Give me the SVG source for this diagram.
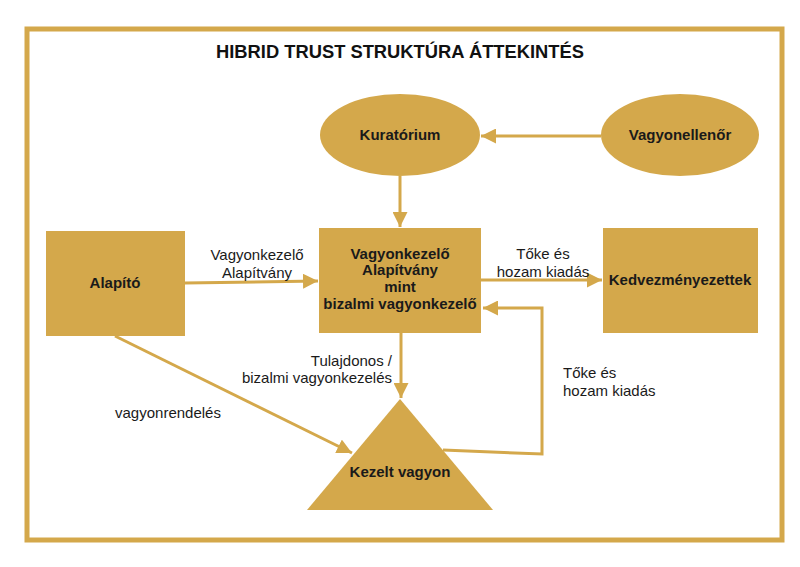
<svg xmlns="http://www.w3.org/2000/svg" width="800" height="567" viewBox="0 0 800 567">
<defs>
<style>
.shape{fill:#D4A84B}
.lbl{font-family:"Liberation Sans",Arial,sans-serif;font-size:15px;fill:#1a1a1a}
.nt{font-family:"Liberation Sans",Arial,sans-serif;font-size:15px;font-weight:bold;fill:#1a1a1a;text-anchor:middle}
.con{fill:none;stroke:#D4A84B;stroke-width:3}
</style>
<marker id="ah" viewBox="0 0 10 10" refX="10" refY="5" markerWidth="5" markerHeight="5" markerUnits="strokeWidth" orient="auto">
<path d="M0,0 L10,5 L0,10 z" fill="#D4A84B"/>
</marker>
</defs>
<rect x="0" y="0" width="800" height="567" fill="#fff"/>
<rect x="27" y="29" width="755" height="511" fill="none" stroke="#D4A84B" stroke-width="5"/>
<text x="400" y="58" text-anchor="middle" font-family="'Liberation Sans',Arial,sans-serif" font-size="18" font-weight="bold" fill="#111" textLength="368" lengthAdjust="spacingAndGlyphs">HIBRID TRUST STRUKTÚRA ÁTTEKINTÉS</text>

<g id="connectors">
<line class="con" x1="601" y1="136" x2="481" y2="136" marker-end="url(#ah)"/>
<line class="con" x1="400" y1="176" x2="400" y2="227" marker-end="url(#ah)"/>
<line class="con" x1="185" y1="283" x2="318" y2="281" marker-end="url(#ah)"/>
<line class="con" x1="481" y1="280" x2="602" y2="280" marker-end="url(#ah)"/>
<line class="con" x1="401" y1="333" x2="401" y2="398" marker-end="url(#ah)"/>
<line class="con" x1="115" y1="336" x2="352" y2="453" marker-end="url(#ah)"/>
<polyline class="con" points="443,450 542,454 542,308 483,308" marker-end="url(#ah)"/>
<text class="lbl" x="257" y="260" text-anchor="middle">Vagyonkezelő</text>
<text class="lbl" x="257" y="278" text-anchor="middle">Alapítvány</text>
<text class="lbl" x="543" y="259" text-anchor="middle">Tőke és</text>
<text class="lbl" x="543" y="277" text-anchor="middle">hozam kiadás</text>
<text class="lbl" x="392" y="366" text-anchor="end">Tulajdonos /</text>
<text class="lbl" x="392" y="383" text-anchor="end">bizalmi vagyonkezelés</text>
<text class="lbl" x="563" y="378">Tőke és</text>
<text class="lbl" x="563" y="396">hozam kiadás</text>
<text class="lbl" x="168" y="418" text-anchor="middle">vagyonrendelés</text>
</g>

<g id="kuratorium">
<ellipse class="shape" cx="400" cy="135" rx="80" ry="41"/>
<text class="nt" x="400" y="140">Kuratórium</text>
</g>
<g id="vagyonellenor">
<ellipse class="shape" cx="680" cy="135" rx="79" ry="41"/>
<text class="nt" x="680" y="140">Vagyonellenőr</text>
</g>
<g id="alapito">
<rect class="shape" x="46" y="231" width="139" height="105"/>
<text class="nt" x="115" y="288">Alapító</text>
</g>
<g id="alapitvany">
<rect class="shape" x="319" y="228" width="162" height="105"/>
<text class="nt" x="400" y="259">Vagyonkezelő</text>
<text class="nt" x="400" y="275">Alapítvány</text>
<text class="nt" x="400" y="292">mint</text>
<text class="nt" x="400" y="309">bizalmi vagyonkezelő</text>
</g>
<g id="kedvezmenyezettek">
<rect class="shape" x="603" y="228" width="155" height="105"/>
<text class="nt" x="680" y="285">Kedvezményezettek</text>
</g>
<g id="kezelt-vagyon">
<polygon class="shape" points="400,399 493,510 307,510"/>
<text class="nt" x="400" y="477">Kezelt vagyon</text>
</g>
</svg>
